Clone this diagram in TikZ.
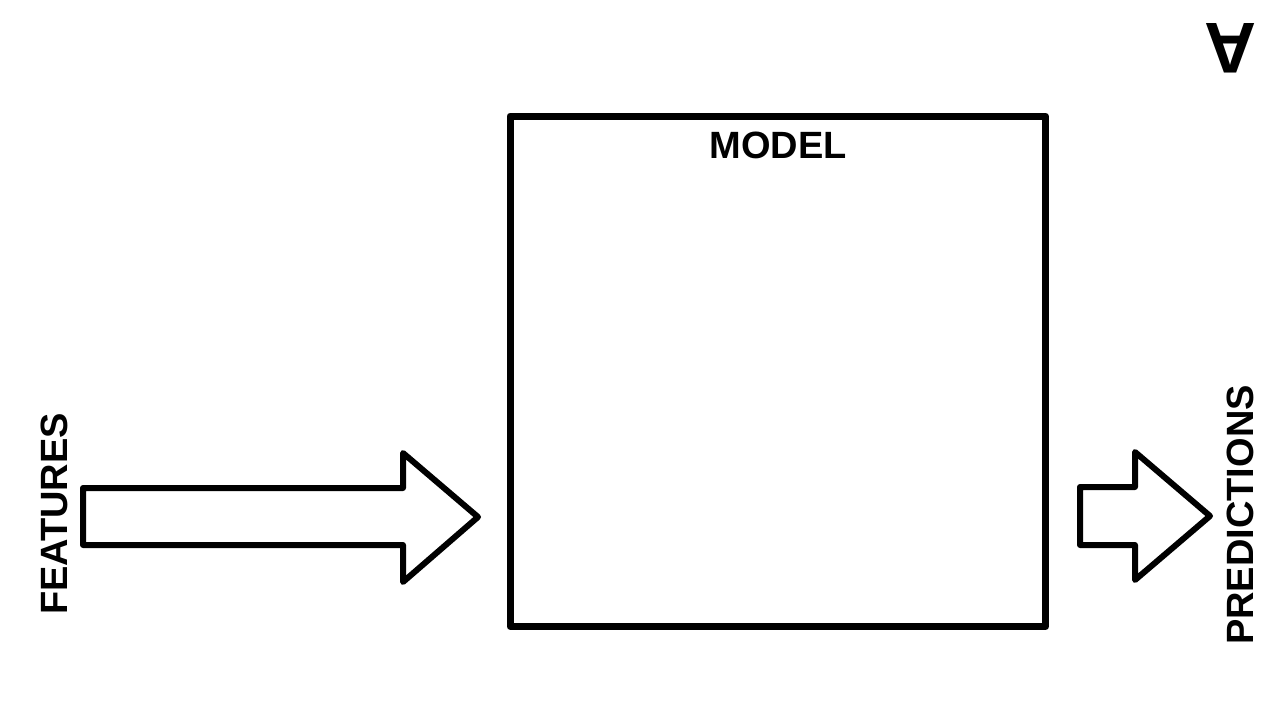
\documentclass[tikz,border=0pt]{standalone}
\usepackage{fontspec}
\setmainfont{Liberation Sans}
\begin{document}
\begin{tikzpicture}[x=1pt,y=-1pt,
  boxline/.style={draw=black,line width=7pt,line join=round,outer sep=0pt,inner sep=0pt},
  blockarrow/.style={draw=black,line width=6pt,line join=round,fill=white},
  lbl/.style={font=\bfseries\fontsize{38}{38}\selectfont,inner sep=0pt}]
\useasboundingbox (0,0) rectangle (1280,720);
\fill[white] (0,0) rectangle (1280,720);
% model box
\node[boxline,minimum width=535.5pt,minimum height=510.5pt] (model) at (777.75,371.25) {};
\node[lbl,anchor=north] (modeltitle) at (778,132) {MODEL};
% features arrow
\draw[blockarrow] (83,488) -- (403,488) -- (403,453) -- (478,517) -- (403,582) -- (403,545) -- (83,545) -- cycle;
\node[lbl,rotate=90] (features) at (54,514) {FEATURES};
% predictions arrow
\draw[blockarrow] (1080,487) -- (1135,487) -- (1135,452) -- (1210,516) -- (1135,580) -- (1135,545) -- (1080,545) -- cycle;
\node[lbl,rotate=90] (predictions) at (1240,515) {PREDICTIONS};
% corner mark
\node[font=\bfseries\fontsize{72}{72}\selectfont,inner sep=0pt,rotate=180] (mark) at (1230,48) {A};
\end{tikzpicture}
\end{document}
